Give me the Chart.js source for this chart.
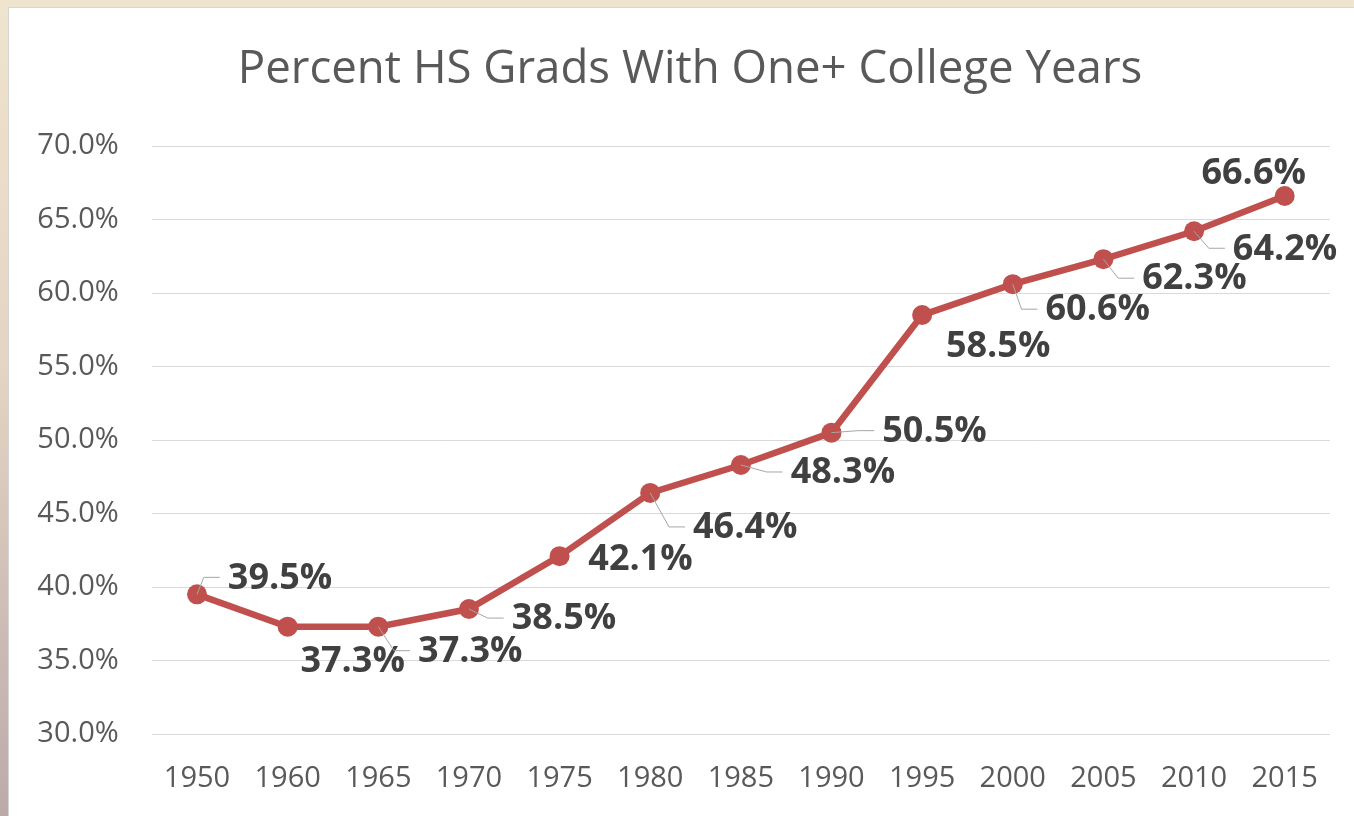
<!DOCTYPE html>
<html>
<head>
<meta charset="utf-8">
<script src="https://cdn.jsdelivr.net/npm/chart.js@4/dist/chart.umd.min.js"></script>
<style>
    html, body { margin: 0; padding: 0; }
    body {
        width: 1354px; height: 816px; overflow: hidden;
        background: linear-gradient(to bottom, #efe4cd 0%, #e3d5c4 45%, #bcaaaa 100%);
    }
    #frame {
        position: absolute; left: 8px; top: 7px; width: 1346px; height: 809px;
        background: #ffffff;
        border-left: 1px solid #d4d4d4; border-top: 1px solid #d8d8d8;
        box-sizing: border-box;
    }
    canvas { display: block; }
</style>
</head>
<body>
<div id="frame"><canvas id="gradChart" width="1346" height="809"></canvas></div>
<script>
// Data
const years = ['1950', '1960', '1965', '1970', '1975', '1980', '1985', '1990', '1995', '2000', '2005', '2010', '2015'];
const pctWithCollege = [39.5, 37.3, 37.3, 38.5, 42.1, 46.4, 48.3, 50.5, 58.5, 60.6, 62.3, 64.2, 66.6];
const yTicks = [30, 35, 40, 45, 50, 55, 60, 65, 70];
const chartTitle = 'Percent HS Grads With One+ College Years';

// Label placement (text centre relative to the point, px) and leader lines
const labelDx = [83, 65, 92, 95, 81, 95, 102, 103, 76, 85, 91, 91, -31];
const labelDy = [-17, 34, 24, 9, 3, 34, 7, -2, 31, 25, 19, 17, -23];
const hasLeader = [true, false, true, true, false, true, true, true, false, true, true, true, false];

const FONT = "'Open Sans', 'Noto Sans', sans-serif";
const RED = '#c0504d';

// Title sits a little right of the canvas centre, as in the original
const titlePlugin = {
    id: 'offsetTitle',
    afterDraw(chart) {
        const ctx = chart.ctx;
        ctx.save();
        ctx.font = '45.6px ' + FONT;
        ctx.fillStyle = '#595959';
        ctx.textAlign = 'center';
        ctx.textBaseline = 'middle';
        ctx.fillText(chartTitle, chart.width / 2 + 8, 62);
        ctx.restore();
    }
};

const dataLabels = {
    id: 'dataLabels',
    afterDatasetsDraw(chart) {
        const ctx = chart.ctx;
        const meta = chart.getDatasetMeta(0);
        ctx.save();
        ctx.font = 'bold 36px ' + FONT;
        ctx.textBaseline = 'middle';
        ctx.textAlign = 'center';
        meta.data.forEach((pt, i) => {
            const text = pctWithCollege[i].toFixed(1) + '%';
            const cx = pt.x + labelDx[i];
            const cy = pt.y + labelDy[i];
            const w = ctx.measureText(text).width;
            const left = cx - w / 2;
            if (hasLeader[i]) {
                ctx.strokeStyle = '#a6a6a6';
                ctx.lineWidth = 1;
                ctx.beginPath();
                ctx.moveTo(pt.x, pt.y);
                const elbow = Math.max(pt.x, left - 24);
                ctx.lineTo(elbow, cy);
                ctx.lineTo(left - 8, cy);
                ctx.stroke();
            }
            ctx.fillStyle = '#404040';
            ctx.fillText(text, cx, cy + 1);
        });
        ctx.restore();
    }
};

new Chart(document.getElementById('gradChart'), {
    type: 'line',
    data: {
        labels: years,
        datasets: [{
            data: pctWithCollege,
            borderColor: RED,
            backgroundColor: RED,
            borderWidth: 6.5,
            pointRadius: 10,
            pointBackgroundColor: RED,
            pointBorderWidth: 0,
            tension: 0
        }]
    },
    options: {
        responsive: false,
        animation: false,
        layout: { padding: { left: 0, right: 25, top: 138, bottom: 0 } },
        plugins: {
            legend: { display: false },
            tooltip: { enabled: false },
            title: { display: false }
        },
        scales: {
            x: {
                offset: true,
                grid: { display: false, drawTicks: false },
                border: { display: false },
                ticks: {
                    color: '#595959',
                    font: { family: FONT, size: 29 },
                    padding: 27,
                    maxRotation: 0,
                    autoSkip: false
                },
                afterFit: (scale) => { scale.height = 83; }
            },
            y: {
                min: 30,
                max: 70,
                afterBuildTicks: (scale) => { scale.ticks = yTicks.map(v => ({ value: v })); },
                grid: { color: '#d9d9d9', lineWidth: 1, drawTicks: false },
                border: { display: false },
                ticks: {
                    color: '#595959',
                    font: { family: FONT, size: 29 },
                    padding: 33,
                    callback: (v) => v.toFixed(1) + '%'
                },
                afterFit: (scale) => { scale.width = 142.7; }
            }
        }
    },
    plugins: [dataLabels, titlePlugin]
});
</script>
</body>
</html>
